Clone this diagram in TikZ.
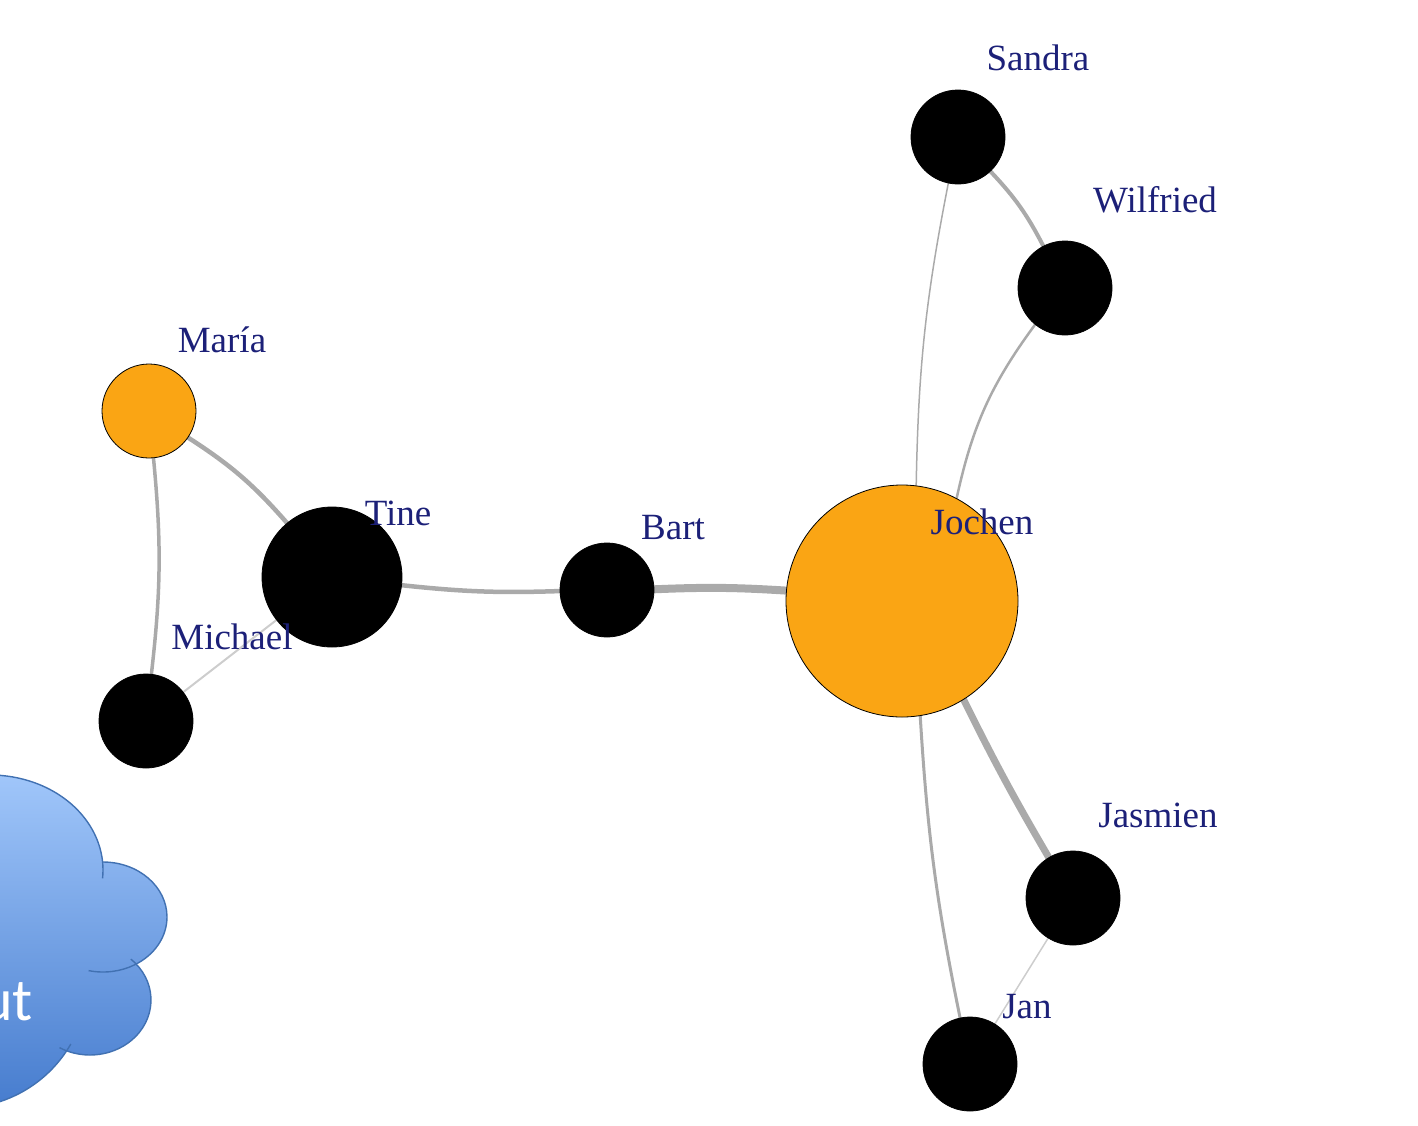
\documentclass[tikz,border=0pt]{standalone}
\usepackage{fontspec}
\newfontfamily\labfont{Liberation Serif}
\newfontfamily\cloudfont{Carlito}
\pgfdeclarelayer{edgelayer}
\pgfsetlayers{edgelayer,main}
\definecolor{nodeorange}{RGB}{250,165,20}
\definecolor{labblue}{RGB}{28,32,120}
\definecolor{edgegray}{RGB}{170,170,170}
\definecolor{edgelight}{RGB}{205,205,205}
\definecolor{cloudtop}{RGB}{160,198,250}
\definecolor{cloudbot}{RGB}{70,124,206}
\definecolor{cloudline}{RGB}{65,113,178}
\begin{document}
\begin{tikzpicture}[x=1pt,y=-1pt,
  vnode/.style={circle,draw=black,line width=0.8pt,inner sep=0pt,minimum size=94pt,fill=black},
  onode/.style={vnode,fill=nodeorange},
  vlabel/.style={font=\labfont\fontsize{37}{40}\selectfont,text=labblue,anchor=base,inner sep=0pt},
  lnk/.style={draw=edgegray,line cap=round},
  cloudedge/.style={draw=cloudline,line width=1.4pt}]
\useasboundingbox (0,0) rectangle (1418,1125);
% vertices
\node[vnode] (sandra) at (958,137) {};
\node[vnode] (wilfried) at (1065,288) {};
\node[onode] (maria) at (149,411) {};
\node[vnode,minimum size=140pt] (tine) at (332,577) {};
\node[vnode] (bart) at (607,590) {};
\node[onode,minimum size=232pt] (jochen) at (902,601) {};
\node[vnode] (michael) at (146,721) {};
\node[vnode] (jasmien) at (1073,898) {};
\node[vnode] (jan) at (970,1064) {};
% edges
\begin{pgfonlayer}{edgelayer}
\draw[lnk,line width=4.5pt] (maria) to[bend left=8] (tine);
\draw[lnk,line width=3.5pt] (maria) to[bend left=6] (michael);
\draw[lnk,line width=2pt,draw=edgelight] (michael) to (tine);
\draw[lnk,line width=4.5pt] (tine) to[bend right=4] (bart);
\draw[lnk,line width=8pt] (bart) to[bend left=3] (jochen);
\draw[lnk,line width=1.5pt] (jochen.83) to[bend left=5] (sandra);
\draw[lnk,line width=2.5pt] (jochen.62) to[bend left=12] (wilfried);
\draw[lnk,line width=4pt] (sandra) to[bend left=8] (wilfried);
\draw[lnk,line width=7pt] (jochen.-58) to[bend right=2] (jasmien);
\draw[lnk,line width=3pt] (jochen.-81) to[bend right=4] (jan);
\draw[lnk,line width=1.5pt,draw=edgelight] (jasmien) to (jan);
\end{pgfonlayer}
% labels
\node[vlabel] (lsandra) at (1038,70) {Sandra};
\node[vlabel] (lwilfried) at (1155,212) {Wilfried};
\node[vlabel] (lmaria) at (222,352) {María};
\node[vlabel] (ltine) at (398,525) {Tine};
\node[vlabel] (lbart) at (673,539) {Bart};
\node[vlabel] (ljochen) at (982,534) {Jochen};
\node[vlabel] (lmichael) at (232,649) {Michael};
\node[vlabel] (ljasmien) at (1158,827) {Jasmien};
\node[vlabel] (ljan) at (1027,1018) {Jan};
% cloud
\shade[top color=cloudtop,bottom color=cloudbot]
  (-10,870) ellipse[x radius=113,y radius=95]
  (103,917) ellipse[x radius=64,y radius=55]
  (90,1000) ellipse[x radius=61,y radius=55]
  (-40,980) circle[radius=128]
  (-60,930) ellipse[x radius=150,y radius=140];
\draw[cloudedge] ([shift={(200:113 and 95)}]-10,870) arc[start angle=200,end angle=365,x radius=113,y radius=95];
\draw[cloudedge] ([shift={(-90:64 and 55)}]103,917) arc[start angle=-90,end angle=103,x radius=64,y radius=55];
\draw[cloudedge] ([shift={(-48:61 and 55)}]90,1000) arc[start angle=-48,end angle=120,x radius=61,y radius=55];
\draw[cloudedge] ([shift={(30:128)}]-40,980) arc[start angle=30,end angle=120,radius=128];
\node[font=\cloudfont\fontsize{60}{60}\selectfont,text=white,anchor=base east,inner sep=0pt] (cloudtext) at (33,1020) {ut};
\end{tikzpicture}
\end{document}
